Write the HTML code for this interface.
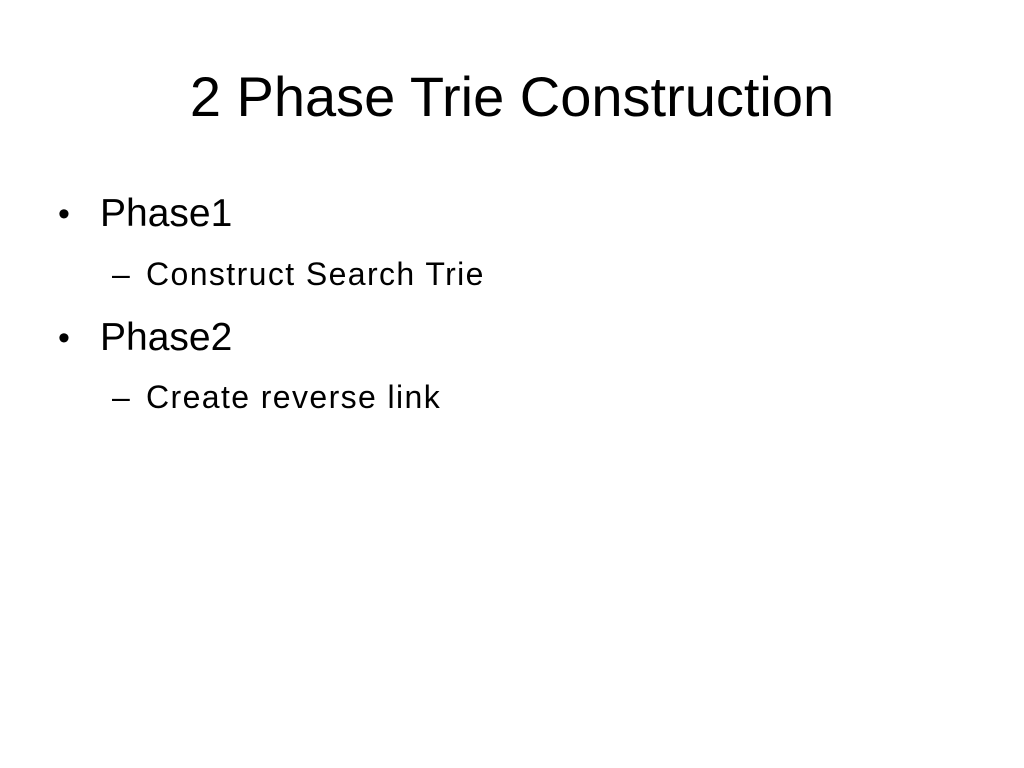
<!DOCTYPE html>
<html><head><style>
html,body{margin:0;padding:0;background:#fff;}
body{width:1024px;height:768px;position:relative;overflow:hidden;font-family:"Liberation Sans",sans-serif;color:#000;}
.t{position:absolute;left:0;width:1024px;text-align:center;top:66px;font-size:56px;line-height:62px;}
.b{position:absolute;font-size:39px;line-height:40px;}
.s{position:absolute;font-size:32px;line-height:34px;letter-spacing:1.4px;}
</style></head><body>
<div class="t">2 Phase Trie Construction</div>
<div class="b" style="left:58px;top:194px;font-size:34px">•</div>
<div class="b" style="left:100px;top:194px">Phase1</div>
<div class="s" style="left:112px;top:257px">–</div>
<div class="s" style="left:146px;top:257px">Construct Search Trie</div>
<div class="b" style="left:58px;top:318px;font-size:34px">•</div>
<div class="b" style="left:100px;top:318px">Phase2</div>
<div class="s" style="left:112px;top:380px">–</div>
<div class="s" style="left:146px;top:380px">Create reverse link</div>
</body></html>
